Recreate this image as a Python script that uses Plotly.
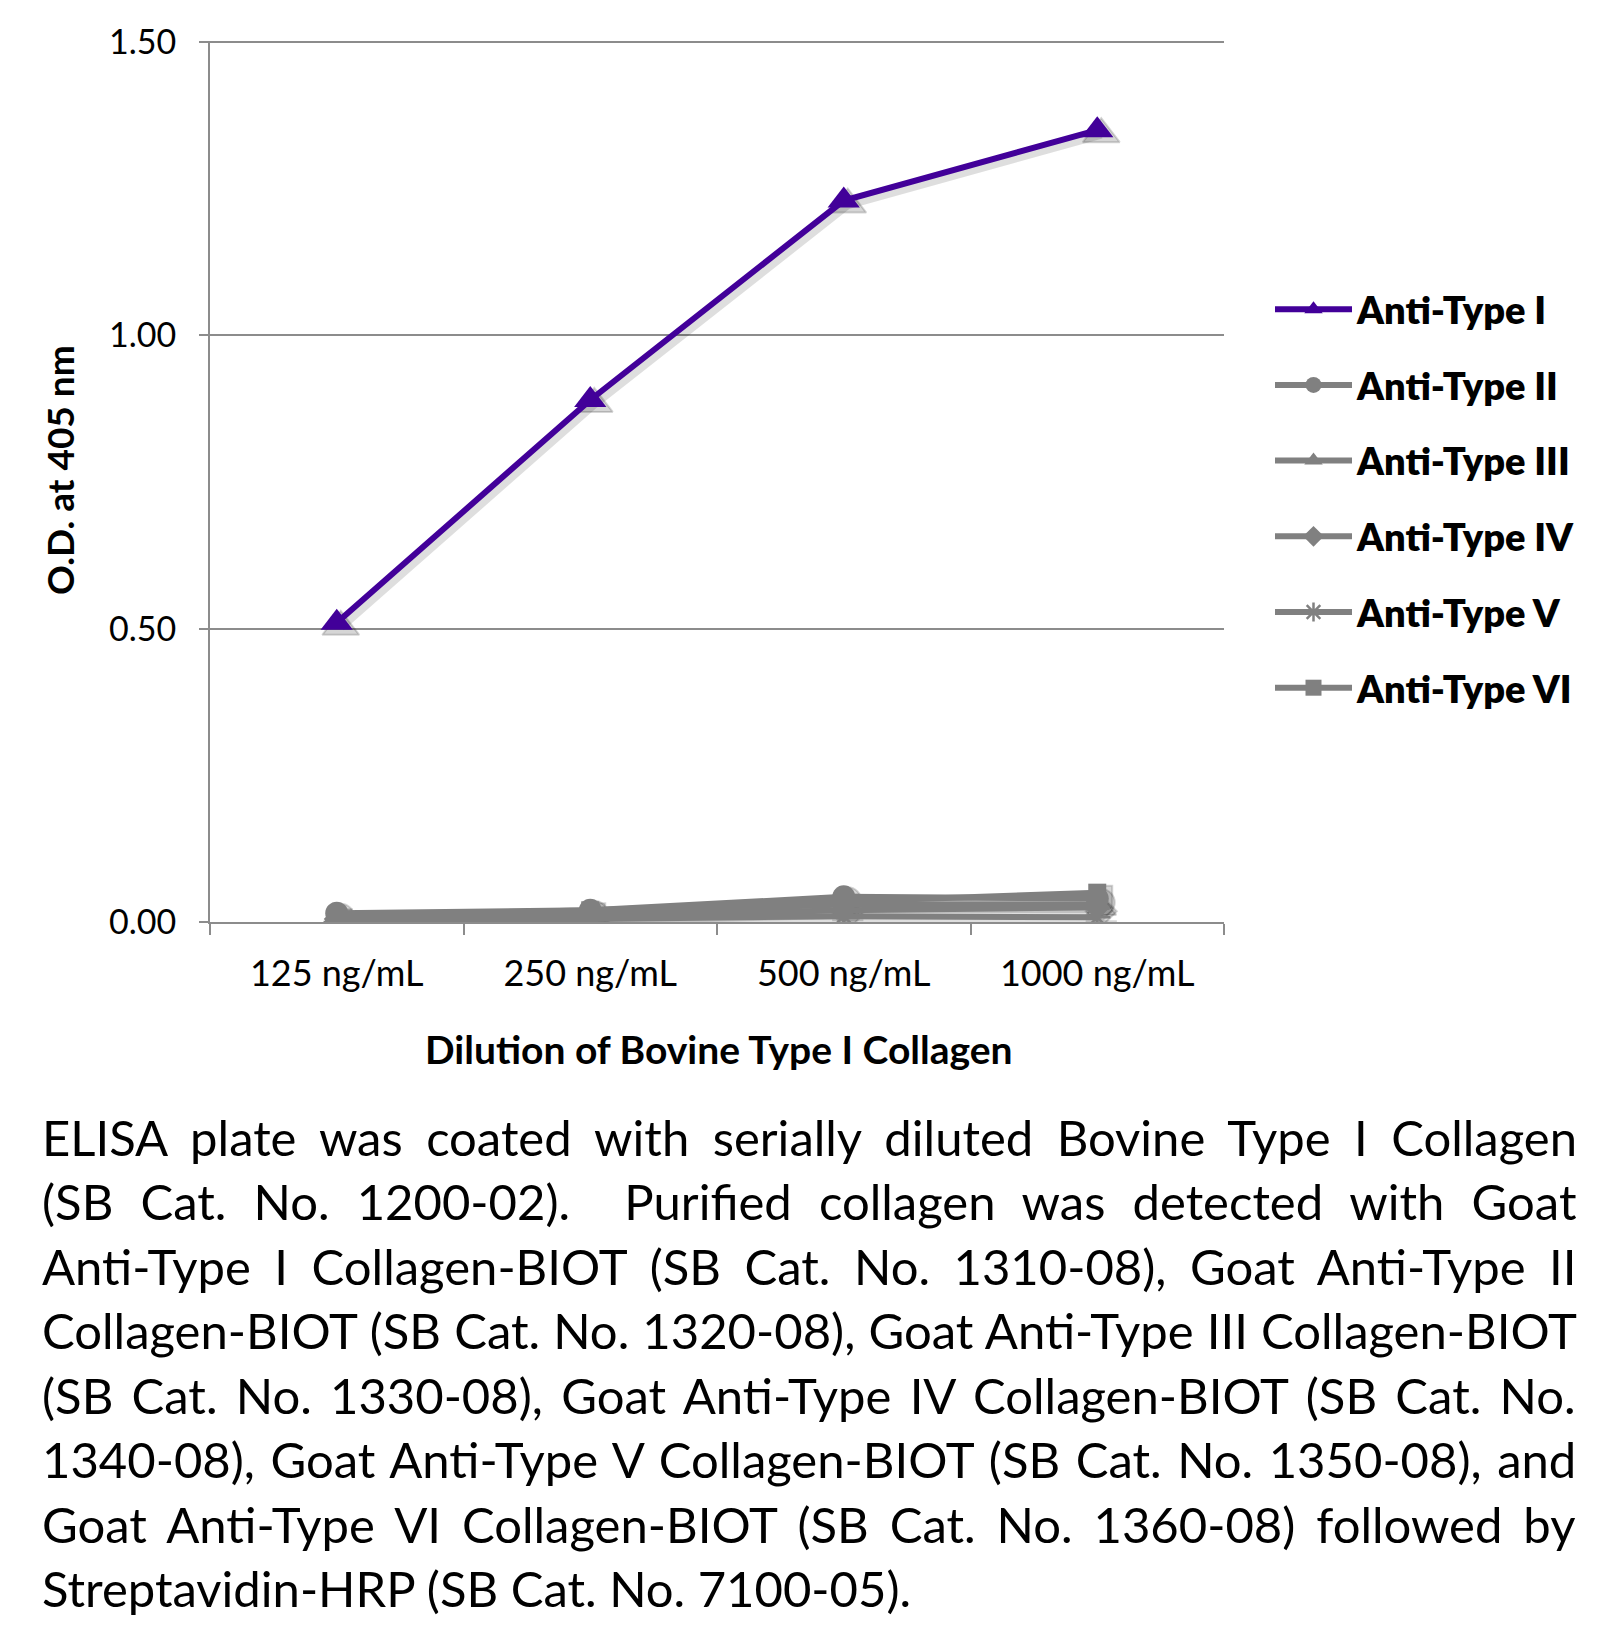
import plotly.graph_objects as go

# ---------------- data ----------------
categories = ["125 ng/mL", "250 ng/mL", "500 ng/mL", "1000 ng/mL"]
series_names = ["Anti-Type I", "Anti-Type II", "Anti-Type III",
                "Anti-Type IV", "Anti-Type V", "Anti-Type VI"]
anti_type_i = [0.51, 0.89, 1.23, 1.35]
anti_type_ii = [0.015, 0.02, 0.043, 0.04]
anti_type_iii = [0.01, 0.015, 0.03, 0.03]
anti_type_iv = [0.005, 0.01, 0.02, 0.025]
anti_type_v = [0.0, 0.005, 0.01, 0.008]
anti_type_vi = [0.01, 0.02, 0.035, 0.05]
y_tick_values = [0.0, 0.5, 1.0, 1.5]
y_tick_labels = ["0.00", "0.50", "1.00", "1.50"]

x_title = "Dilution of Bovine Type I Collagen"
y_title = "O.D. at 405 nm"
caption_lines = [
    "ELISA plate was coated with serially diluted Bovine Type I Collagen",
    "(SB Cat. No. 1200-02).\u00a0 Purified collagen was detected with Goat",
    "Anti-Type I Collagen-BIOT (SB Cat. No. 1310-08), Goat Anti-Type II",
    "Collagen-BIOT (SB Cat. No. 1320-08), Goat Anti-Type III Collagen-BIOT",
    "(SB Cat. No. 1330-08), Goat Anti-Type IV Collagen-BIOT (SB Cat. No.",
    "1340-08), Goat Anti-Type V Collagen-BIOT (SB Cat. No. 1350-08), and",
    "Goat Anti-Type VI Collagen-BIOT (SB Cat. No. 1360-08) followed by",
    "Streptavidin-HRP (SB Cat. No. 7100-05).",
]

# ---------------- styles ----------------
PURPLE = "#420099"
GRAY = "#808080"
AXIS = "#8c8c8c"
series_values = [anti_type_i, anti_type_ii, anti_type_iii,
                 anti_type_iv, anti_type_v, anti_type_vi]
series_colors = [PURPLE, GRAY, GRAY, GRAY, GRAY, GRAY]
series_symbols = ["triangle-up", "circle", "triangle-up", "diamond",
                  "asterisk-open", "square"]
series_sizes = [28, 23, 22, 20, 22, 18]
draw_order = [1, 2, 3, 4, 5, 0]

# page body has an 8px margin -> figure is 16px smaller than the window
W, H = 1604, 1610
L, R, T, B = 202, 388, 33, 696
PW, PH = W - L - R, H - T - B
Y_MAX = 1.502


def px_x(px):
    return (px - L) / PW


def px_y(py):
    return (H - B - py) / PH


cat_px = PW / len(categories)
dx = 4 / cat_px
dy = 4 * Y_MAX / PH

fig = go.Figure()

# soft drop-shadow layer (hidden main axes, range shifted by a few pixels)
for i in range(len(series_names)):
    fig.add_trace(go.Scatter(
        x=categories, y=series_values[i], mode="lines+markers",
        xaxis="x", yaxis="y", showlegend=False, hoverinfo="skip",
        line=dict(color="rgba(0,0,0,0.13)", width=9),
        marker=dict(symbol=series_symbols[i], size=series_sizes[i] + 4,
                    color="rgba(0,0,0,0.16)",
                    line=dict(width=2, color="rgba(0,0,0,0.16)")),
    ))

# visible series
for i in draw_order:
    is_open = series_symbols[i].endswith("open")
    fig.add_trace(go.Scatter(
        x=categories, y=series_values[i], mode="lines+markers",
        name=series_names[i], xaxis="x2", yaxis="y2",
        legendgroup=series_names[i], legendrank=i + 1,
        line=dict(color=series_colors[i], width=6),
        marker=dict(symbol=series_symbols[i], size=series_sizes[i],
                    color=series_colors[i],
                    line=dict(width=2.5 if is_open else 0, color=series_colors[i])),
    ))

fig.update_layout(
    width=W, height=H,
    margin=dict(l=L, r=R, t=T, b=B, autoexpand=False),
    paper_bgcolor="white", plot_bgcolor="white",
    font=dict(family="Lato", color="black"),
    xaxis=dict(type="category", categoryarray=categories, categoryorder="array",
               range=[-0.5 - dx, len(categories) - 0.5 - dx], visible=False,
               fixedrange=True),
    yaxis=dict(range=[0 + dy, Y_MAX + dy], visible=False, fixedrange=True),
    xaxis2=dict(type="category", categoryarray=categories, categoryorder="array",
                overlaying="x", anchor="y2", side="bottom",
                range=[-0.5, len(categories) - 0.5], automargin=False,
                showline=True, linecolor=AXIS, linewidth=2,
                ticks="outside", tickson="boundaries", ticklen=11,
                tickcolor=AXIS, tickwidth=2, showgrid=False,
                tickfont=dict(size=36, family="Lato", color="black"),
                ticklabelstandoff=19),
    yaxis2=dict(overlaying="y", anchor="x2", side="left", automargin=False,
                range=[0, Y_MAX], tickvals=y_tick_values, ticktext=y_tick_labels,
                showline=True, linecolor=AXIS, linewidth=2,
                showgrid=True, gridcolor=AXIS, gridwidth=2, zeroline=False,
                ticks="outside", ticklen=9, tickcolor=AXIS, tickwidth=2,
                tickfont=dict(size=34, family="Lato", color="black"),
                ticklabelstandoff=16),
    legend=dict(xref="container", yref="container",
                x=1262 / W, y=1 - 270 / H, xanchor="left", yanchor="top",
                itemwidth=77, tracegroupgap=23.3, traceorder="grouped",
                font=dict(size=38, family="Lato", weight=800, color="black"),
                bgcolor="rgba(0,0,0,0)", borderwidth=0),
)

# axis titles
fig.add_annotation(text="<b>%s</b>" % x_title, xref="paper", yref="paper",
                   x=px_x(711), y=px_y(1041), xanchor="center", yanchor="middle",
                   showarrow=False, font=dict(size=39, family="Lato", color="black"))
fig.add_annotation(text="<b>%s</b>" % y_title, xref="paper", yref="paper",
                   x=px_x(51), y=px_y(462), xanchor="center", yanchor="middle",
                   textangle=-90, showarrow=False,
                   font=dict(size=37, family="Lato", color="black"))

# caption (justified lines via word spacing)
caption_centers = [1129, 1193.4, 1257.9, 1322.3, 1386.7, 1451.1, 1515.6, 1580]
word_spacing = [10.9, 14.6, 11.0, 0.6, 5.7, 3.0, 8.4, 0]
for k, line in enumerate(caption_lines):
    txt = line if word_spacing[k] == 0 else \
        '<span style="word-spacing:%.2fpx">%s</span>' % (word_spacing[k], line)
    fig.add_annotation(text=txt, xref="paper", yref="paper",
                       x=px_x(31.5), y=px_y(caption_centers[k]),
                       xanchor="left", yanchor="middle", showarrow=False,
                       align="left",
                       font=dict(size=49, family="Lato", color="black"))

fig.write_html("out.html")
